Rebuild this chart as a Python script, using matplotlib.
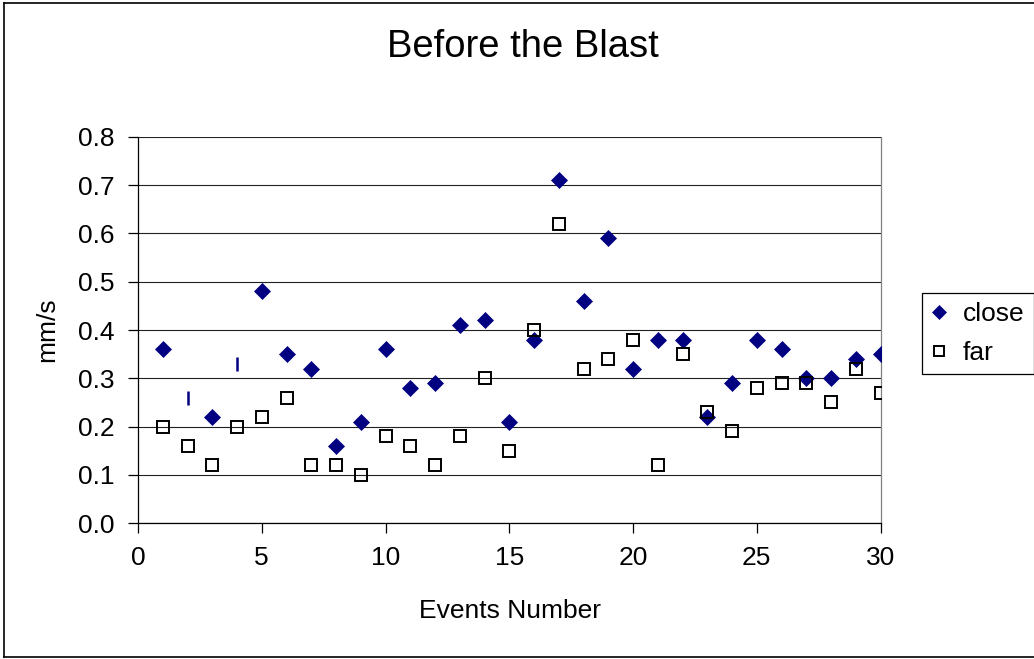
import matplotlib
matplotlib.use("Agg")
import matplotlib.pyplot as plt
from matplotlib.lines import Line2D

plt.rcParams['font.family'] = ['Liberation Sans', 'DejaVu Sans']

events = list(range(1, 31))
close = [0.36, 0.26, 0.22, 0.33, 0.48, 0.35, 0.32, 0.16, 0.21, 0.36,
         0.28, 0.29, 0.41, 0.42, 0.21, 0.38, 0.71, 0.46, 0.59, 0.32,
         0.38, 0.38, 0.22, 0.29, 0.38, 0.36, 0.30, 0.30, 0.34, 0.35]
far = [0.20, 0.16, 0.12, 0.20, 0.22, 0.26, 0.12, 0.12, 0.10, 0.18,
       0.16, 0.12, 0.18, 0.30, 0.15, 0.40, 0.62, 0.32, 0.34, 0.38,
       0.12, 0.35, 0.23, 0.19, 0.28, 0.29, 0.29, 0.25, 0.32, 0.27]
# events whose "close" marker is drawn as a thin vertical bar in the original
bar_marker_events = [2, 4]

title = "Before the Blast"
xlabel = "Events Number"
ylabel = "mm/s"
xticks = [0, 5, 10, 15, 20, 25, 30]
yticks = [0.0, 0.1, 0.2, 0.3, 0.4, 0.5, 0.6, 0.7, 0.8]

W, H = 1034, 659
fig = plt.figure(figsize=(W / 100, H / 100), dpi=100)
ax = fig.add_axes([138 / W, 1 - 523.3 / H, (880.5 - 138) / W, (523.3 - 136.7) / H])

navy = '#000080'
cx = [e for e in events if e not in bar_marker_events]
cy = [v for e, v in zip(events, close) if e not in bar_marker_events]
bx = [e for e in events if e in bar_marker_events]
by = [v for e, v in zip(events, close) if e in bar_marker_events]

ax.plot(cx, cy, linestyle='none', marker='D', markersize=8.6,
        markerfacecolor=navy, markeredgecolor=navy, markeredgewidth=0.5,
        label='close', zorder=3)
ax.plot(bx, by, linestyle='none', marker='|', markersize=9.5,
        markeredgecolor=navy, markeredgewidth=1.8, zorder=3)
ax.plot(events, far, linestyle='none', marker='s', markersize=8.4,
        markerfacecolor='none', markeredgecolor='black', markeredgewidth=1.4,
        label='far', zorder=4)

ax.set_xlim(0, 30)
ax.set_ylim(0, 0.8)
ax.set_xticks(xticks)
ax.set_yticks(yticks)
ax.set_yticklabels([f"{v:.1f}" for v in yticks])
ax.set_xticklabels([str(v) for v in xticks])
ax.yaxis.grid(True, color='#222222', linewidth=0.8)
ax.set_axisbelow(True)

ax.spines['top'].set_visible(False)
ax.spines['right'].set_color('#808080')
ax.spines['right'].set_linewidth(0.9)
for side in ['left', 'bottom']:
    ax.spines[side].set_color('black')
    ax.spines[side].set_linewidth(0.9)

ax.tick_params(axis='both', direction='out', length=7, width=0.9,
               labelsize=19, colors='black')
ax.tick_params(axis='y', pad=10)
ax.tick_params(axis='x', pad=9)

fig.text(523 / W, 1 - 47 / H, title, fontsize=27.5, ha='center', va='center')
fig.text(510 / W, 1 - 611 / H, xlabel, fontsize=19, ha='center', va='center')
fig.text(47 / W, 1 - 330 / H, ylabel, fontsize=19, ha='center', va='center',
         rotation=90)

leg = ax.legend(loc='upper left', bbox_to_anchor=(922 / W, 1 - 293 / H),
                bbox_transform=fig.transFigure, fontsize=19, frameon=True,
                fancybox=False, edgecolor='black', framealpha=1,
                borderpad=0.35, labelspacing=0.55, handlelength=0.6,
                handletextpad=0.6, borderaxespad=0, markerscale=0.8)
leg.get_frame().set_linewidth(0.9)

# outer chart border
fig.add_artist(Line2D([4 / W, 4 / W], [1 - 3 / H, 1 - 657 / H], color='black', linewidth=1.2, transform=fig.transFigure))
fig.add_artist(Line2D([4 / W, 1.0], [1 - 3 / H, 1 - 3 / H], color='black', linewidth=1.2, transform=fig.transFigure))
fig.add_artist(Line2D([4 / W, 1.0], [1 - 657 / H, 1 - 657 / H], color='black', linewidth=1.2, transform=fig.transFigure))

fig.savefig('out.png', dpi=100)
